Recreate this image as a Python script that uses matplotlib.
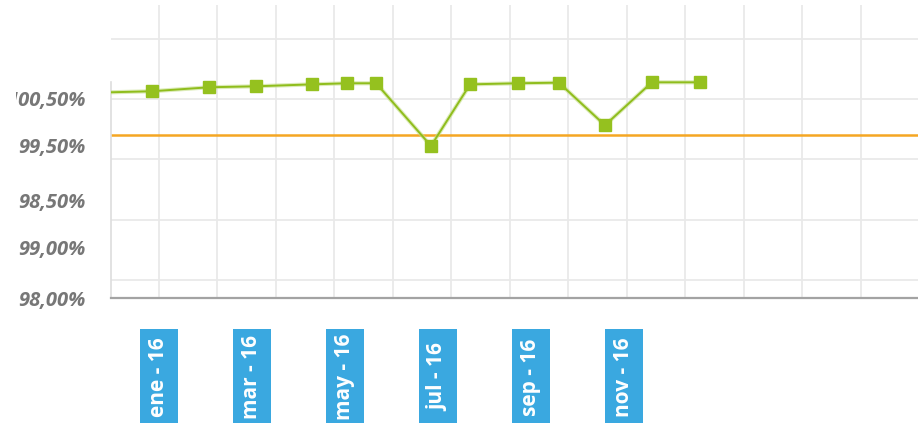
import matplotlib
matplotlib.use("Agg")
import matplotlib.pyplot as plt
import matplotlib.transforms as mtrans
from matplotlib.patches import Rectangle

# ---- data ----
month_labels = ["ene - 16", "mar - 16", "may - 16", "jul - 16", "sep - 16", "nov - 16"]
month_label_pos = [0, 2, 4, 6, 8, 10]          # month index (ene = 0)

point_x = [-1.31, -0.15, 1.08, 2.09, 3.29, 4.04, 4.67, 5.85, 6.69, 7.72, 8.60, 9.59, 10.60, 11.63]
point_y = [100.553, 100.564, 100.597, 100.605, 100.621, 100.630, 100.630, 100.112,
           100.621, 100.630, 100.635, 100.283, 100.638, 100.638]

target_value = 100.203

y_tick_pos = [98.855, 99.269, 99.665, 100.112, 100.508]
y_tick_labels = ["98,00%", "99,00%", "98,50%", "99,50%", "100,50%"]

grid_y = [99.0, 99.5, 100.0, 100.5, 101.0]
grid_x = [1.258 * k for k in range(13)]

# ---- figure ----
W, H, DPI = 918, 423, 100
fig = plt.figure(figsize=(W / DPI, H / DPI), dpi=DPI)
ax = fig.add_axes([111 / W, (H - 298) / H, (918 - 111) / W, 293 / H])

ax.set_xlim(-1.032, 16.323)
ax.set_ylim(98.855, 101.277)

# grid
ax.set_xticks(grid_x)
ax.set_xticklabels([])
ax.tick_params(axis="x", length=0)
ax.set_yticks(grid_y, minor=True)
ax.set_yticks(y_tick_pos)
ax.set_yticklabels(y_tick_labels)
ax.tick_params(axis="y", which="both", length=0, pad=18.5)
ax.grid(axis="x", which="major", color="#e9e9e9", linewidth=1.3, zorder=0)
ax.grid(axis="y", which="minor", color="#e9e9e9", linewidth=1.3, zorder=0)
ax.grid(axis="y", which="major", visible=False)

for lab in ax.get_yticklabels():
    lab.set_fontfamily("Open Sans")
    lab.set_fontweight("bold")
    lab.set_fontstyle("italic")
    lab.set_fontsize(14.5)
    lab.set_color("#777777")

# clip the first label like the reference (left edge cut)
for lab in ax.get_yticklabels():
    if lab.get_text() == "100,50%":
        lab.set_clip_box(mtrans.TransformedBbox(mtrans.Bbox.from_extents(16 / W, 0, 1, 1), fig.transFigure))
        lab.set_clip_on(True)

# spines
for s in ("top", "right"):
    ax.spines[s].set_visible(False)
ax.spines["bottom"].set_color("#a3a3a3")
ax.spines["bottom"].set_linewidth(1.6)
ax.spines["left"].set_color("#dddddd")
ax.spines["left"].set_linewidth(1.2)
ax.spines["left"].set_bounds(98.855, 100.64)

# target line
ax.axhline(target_value, color="#f5a623", linewidth=1.8, zorder=2)

# series
ax.plot(point_x, point_y, color="#c5df8a", linewidth=3.0, zorder=3, alpha=0.6)
ax.plot(point_x, point_y, color="#8fbd1c", linewidth=1.4, zorder=4,
        marker="s", markersize=8, markerfacecolor="#95c11f", markeredgecolor="#95c11f")

# month label boxes
tr = mtrans.blended_transform_factory(ax.transData, ax.transAxes)
box_w = 38 / 46.5
box_bottom = (298 - 423) / 293
box_h = 94 / 293
text_y = (298 - 377) / 293
for pos, lab in zip(month_label_pos, month_labels):
    ax.add_patch(Rectangle((pos - box_w / 2, box_bottom), box_w, box_h, transform=tr,
                           facecolor="#3aa8e0", edgecolor="none", clip_on=False, zorder=5))
    ax.text(pos, text_y, lab, transform=tr, rotation=90, ha="center", va="center",
            color="white", fontsize=15, fontweight="bold", family="Open Sans",
            clip_on=False, zorder=6)

fig.savefig("out.png", dpi=DPI)
